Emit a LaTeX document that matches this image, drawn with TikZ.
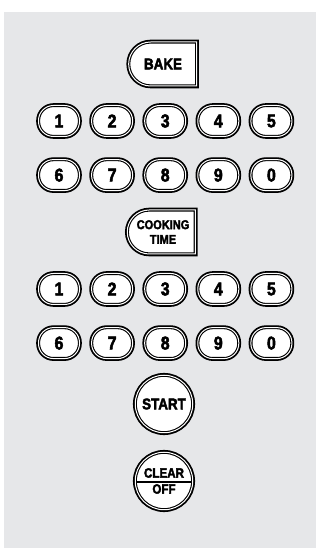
\documentclass[tikz,border=0pt]{standalone}
\usepackage{fontspec}
\usepackage{xcolor}
\usetikzlibrary{positioning,shapes.misc}
\newfontfamily\keyfont{Liberation Sans Bold}[FakeStretch=0.86, FakeBold=2.6]
\definecolor{panelgray}{RGB}{230,231,233}

\begin{document}
\begin{tikzpicture}[
    x=1pt, y=1pt,
    keybase/.style={draw=black, fill=white, line width=1.1pt, double=white, double distance=1pt,
      preaction={draw=black, line width=4.6pt}, inner sep=0pt},
    digitkey/.style={keybase, rectangle, rounded corners=15pt, minimum width=41pt, minimum height=31pt,
      font=\keyfont\fontsize{18.5}{20}\selectfont},
    modekey/.style={keybase, rounded rectangle, rounded rectangle right arc=none,
      minimum width=68pt, minimum height=44pt, align=center},
    roundkey/.style={keybase, circle, minimum size=57.5pt, align=center},
  ]
  \useasboundingbox (0,0) rectangle (320,548);
  \fill[panelgray] (4,0) rectangle (316,536);

  % Bake
  \node[modekey, font=\keyfont\fontsize{15.6}{16}\selectfont] (bake) at (163,484) {BAKE};

  % Temperature digits
  \node[digitkey] (a1) at (59,427) {1};
  \node[digitkey, right=11pt of a1] (a2) {2};
  \node[digitkey, right=11pt of a2] (a3) {3};
  \node[digitkey, right=11pt of a3] (a4) {4};
  \node[digitkey, right=11pt of a4] (a5) {5};
  \node[digitkey, below=22pt of a1] (a6) {6};
  \node[digitkey, right=11pt of a6] (a7) {7};
  \node[digitkey, right=11pt of a7] (a8) {8};
  \node[digitkey, right=11pt of a8] (a9) {9};
  \node[digitkey, right=11pt of a9] (a0) {0};

  % Cooking time
  \node[modekey, font=\keyfont\fontsize{12.8}{14.7}\selectfont] (cook) at (163,316) {COOKING\\TIME};

  % Time digits
  \node[digitkey] (b1) at (59,259) {1};
  \node[digitkey, right=11pt of b1] (b2) {2};
  \node[digitkey, right=11pt of b2] (b3) {3};
  \node[digitkey, right=11pt of b3] (b4) {4};
  \node[digitkey, right=11pt of b4] (b5) {5};
  \node[digitkey, below=22pt of b1] (b6) {6};
  \node[digitkey, right=11pt of b6] (b7) {7};
  \node[digitkey, right=11pt of b7] (b8) {8};
  \node[digitkey, right=11pt of b8] (b9) {9};
  \node[digitkey, right=11pt of b9] (b0) {0};

  % Start and clear
  \node[roundkey, font=\keyfont\fontsize{15.6}{16}\selectfont] (start) at (164,144) {START};
  \node[roundkey, font=\keyfont\fontsize{13.5}{16}\selectfont] (clear) at (164,67) {CLEAR\\OFF};
  \draw[line width=1.6pt, shorten <=1.5pt, shorten >=1.5pt] ([yshift=-1pt]clear.west) -- ([yshift=-1pt]clear.east);
\end{tikzpicture}
\end{document}
